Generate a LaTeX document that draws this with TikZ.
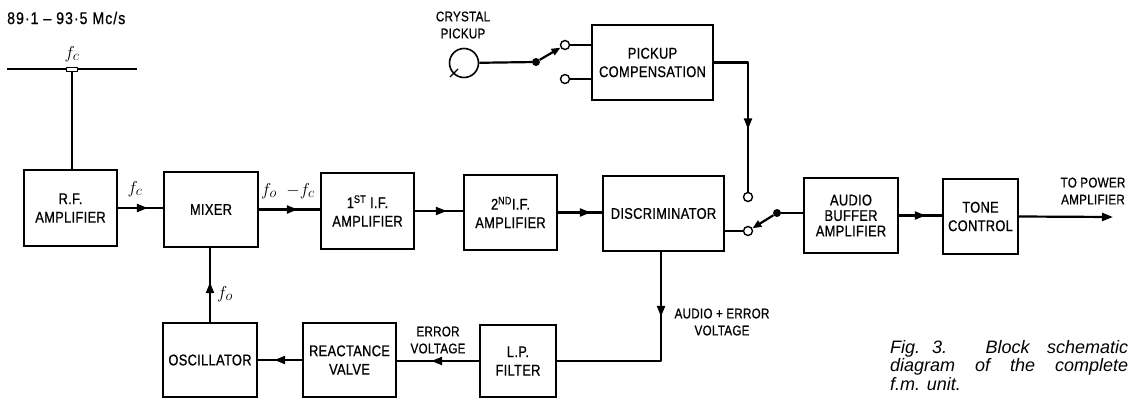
\documentclass[tikz,border=0pt]{standalone}
\usepackage{fontspec}
\setmainfont{Liberation Sans}
\newfontfamily\blkfont[FakeStretch=0.83, LetterSpace=2, FakeBold=0.8]{Liberation Sans}
\newfontfamily\capfont{Liberation Sans}
\usetikzlibrary{arrows.meta,decorations.markings}
\tikzset{
 blk/.style={draw, line width=1.6pt, align=center, inner sep=1pt, font=\blkfont\fontsize{15.5}{18.5}\selectfont},
 conn/.style={line width=2.2pt},
 midarr/.style={postaction={decorate}, decoration={markings, mark=at position #1 with {\arrow{Triangle[length=11pt,width=8pt]}}}},
 ocirc/.style={circle, draw, line width=1.4pt, fill=white, minimum size=9pt, inner sep=0pt},
 dotc/.style={circle, fill, minimum size=8pt, inner sep=0pt},
 sml/.style={font=\blkfont\fontsize{14}{17}\selectfont, align=center, inner sep=0pt},
 flab/.style={font=\fontsize{19}{19}\selectfont, inner sep=0pt},
}
\begin{document}
\begin{tikzpicture}[x=1pt,y=-1pt]
\useasboundingbox (0,0) rectangle (1128,399);
% blocks
\node[blk, minimum width=93pt, minimum height=76pt] (rf) at (70.5,208) {R.F.\\AMPLIFIER};
\node[blk, minimum width=94pt, minimum height=75pt] (mix) at (211,209.5) {MIXER};
\node[blk, minimum width=93pt, minimum height=76pt] (if1) at (367.5,211) {1\textsuperscript{ST} I.F.\\AMPLIFIER};
\node[blk, minimum width=93pt, minimum height=75pt] (if2) at (510.5,212.5) {2\textsuperscript{ND}I.F.\\AMPLIFIER};
\node[blk, minimum width=121pt, minimum height=75pt] (disc) at (663.5,213.5) {DISCRIMINATOR};
\node[blk, minimum width=94pt, minimum height=75pt] (buf) at (851,215.5) {AUDIO\\[-3pt]BUFFER\\[-3pt]AMPLIFIER};
\node[blk, minimum width=75pt, minimum height=75pt] (tone) at (980.5,216.5) {TONE\\CONTROL};
\node[blk, minimum width=121pt, minimum height=75pt] (comp) at (652.5,62.5) {PICKUP\\COMPENSATION};
\node[blk, minimum width=94pt, minimum height=74pt] (osc) at (210,360) {OSCILLATOR};
\node[blk, minimum width=93pt, minimum height=74pt] (react) at (349.5,360) {REACTANCE\\VALVE};
\node[blk, minimum width=76pt, minimum height=72pt] (lp) at (518,361) {L.P.\\FILTER};
% antenna
\coordinate (antL) at (7,69);
\coordinate (antR) at (137,69);
\draw[conn] (antL) -- (antR);
\node[draw, line width=1pt, fill=white, minimum width=11pt, minimum height=4pt, inner sep=0pt] (ins) at (72,69) {};
\draw[conn] (ins.south) -- (ins.south |- rf.north);
% main chain
\draw[conn, midarr=30pt] (rf.east) -- (rf.east -| mix.west);
\draw[conn, midarr=39pt] (mix.east) -- (mix.east -| if1.west);
\draw[conn, midarr=32pt] (if1.east) -- (if1.east -| if2.west);
\draw[conn, midarr=33pt] (if2.east) -- (if2.east -| disc.west);
\draw[conn, midarr=27pt] (buf.east) -- (buf.east -| tone.west);
\coordinate (out) at (1113,217);
\draw[conn, -{Triangle[length=11pt,width=8pt]}] (tone.east) -- (out);
% feedback loop
\draw[conn, midarr=40pt] (osc.north) -- (osc.north |- mix.south);
\draw[conn, midarr=28pt] (react.west) -- (react.west -| osc.east);
\draw[conn, midarr=48pt] (lp.west) -- (lp.west -| react.east);
\coordinate (dcorner) at (661,361);
\draw[conn, midarr=65pt, line join=round] (dcorner |- disc.south) -- (dcorner) -- (lp.east |- dcorner);
% crystal pickup and switch
\node[circle, draw, line width=1.6pt, minimum size=29pt, inner sep=0pt] (xtal) at (464,63) {};
\draw[line width=1.4pt] ([shift={(-6,6)}]xtal.center) -- ++(-8,8);
\node[dotc] (p1) at (536,62) {};
\node[ocirc] (s1a) at (565,45) {};
\node[ocirc] (s1b) at (565,79) {};
\draw[conn] (xtal) -- (p1);
\draw[conn, -{Triangle[length=9pt,width=7pt]}] (p1) -- (s1a);
\draw[conn] (s1a) -- (s1a -| comp.west);
\draw[conn] (s1b) -- (s1b -| comp.west);
% output switch
\node[ocirc] (s2a) at (748,197) {};
\node[ocirc] (s2b) at (748,231) {};
\node[dotc] (p2) at (777,213) {};
\draw[conn, midarr=101pt, line join=round] (comp.east) -- (comp.east -| s2a) -- (s2a.north);
\draw[conn] (disc.east |- s2b) -- (s2b);
\draw[conn, -{Triangle[length=9pt,width=7pt]}] (p2) -- (s2b);
\draw[conn] (p2) -- (p2 -| buf.west);
% labels
\node[anchor=west, font=\blkfont\addfontfeature{LetterSpace=6}\fontsize{17}{17}\selectfont, inner sep=0pt] (ttl) at (7,18) {89·1 – 93·5 Mc/s};
\node[flab] (lfc0) at (72,54) {$f_c$};
\node[flab] (lfc1) at (135,189) {$f_c$};
\node[flab] (lfo1) at (288,191) {$f_o\;\;{-}f_c$};
\node[flab] (lfo2) at (225,294) {$f_o$};
\node[sml] (lxt) at (463,25) {CRYSTAL\\PICKUP};
\node[sml] (lerr) at (438,340) {ERROR\\VOLTAGE};
\node[sml] (lae) at (722,322) {AUDIO + ERROR\\VOLTAGE};
\node[sml] (lout) at (1093,191) {TO POWER\\AMPLIFIER};
\node[anchor=north west, text width=238pt, align=justify, inner sep=0pt, font=\capfont\itshape\fontsize{18}{18.5}\selectfont] (cap) at (890,340) {Fig.\hspace{0.35em plus 0.2fil}3.\hspace{0.6em plus 1fil}Block\hspace{0.35em plus 0.4fil}schematic\linebreak diagram of the complete\linebreak f.m. unit.};
\end{tikzpicture}
\end{document}
